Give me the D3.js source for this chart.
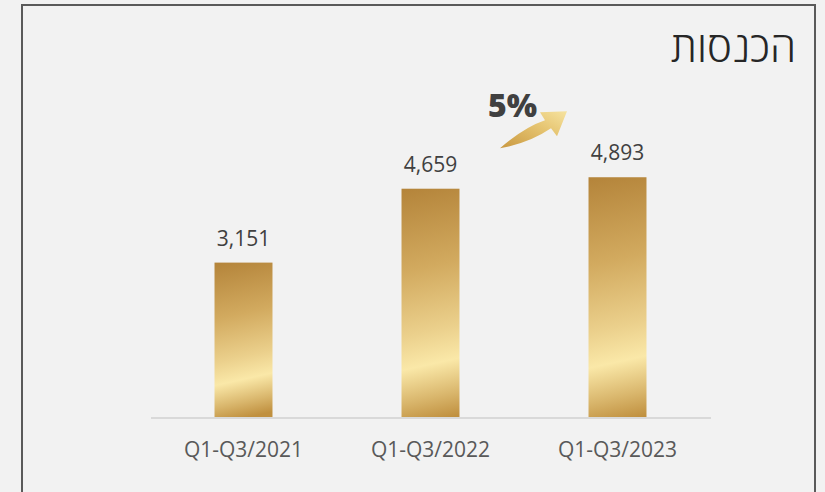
<!DOCTYPE html>
<html>
<head>
<meta charset="utf-8">
<script src="https://cdn.jsdelivr.net/npm/d3@7"></script>
<style>
  html, body { margin: 0; padding: 0; background: #f2f2f2; }
  svg { display: block; }
</style>
</head>
<body>
<script>
const periods = ["Q1-Q3/2021", "Q1-Q3/2022", "Q1-Q3/2023"];
const revenue = [3151, 4659, 4893];
const titleText = "הכנסות";

const W = 825, H = 492;

const svg = d3.select("body").append("svg")
  .attr("width", W)
  .attr("height", H);

svg.append("rect")
  .attr("width", W).attr("height", H)
  .attr("fill", "#f2f2f2");

// frame (bottom runs off the picture)
svg.append("rect")
  .attr("x", 22).attr("y", 5)
  .attr("width", 793).attr("height", 520)
  .attr("fill", "none")
  .attr("stroke", "#5a5a5a")
  .attr("stroke-width", 2);

const x = d3.scaleBand()
  .domain(periods)
  .range([150, 711])
  .paddingInner(0.69)
  .paddingOuter(0.345);

const y = d3.scaleLinear()
  .domain([0, 6000])
  .range([417, 123]);

const defs = svg.append("defs");

// per-bar gold gradient, light band near the bottom
periods.forEach(function (p, i) {
  const h = y(0) - y(revenue[i]);
  const g = defs.append("linearGradient")
    .attr("id", "gold" + i)
    .attr("gradientUnits", "userSpaceOnUse")
    .attr("x1", x(p)).attr("y1", y(revenue[i]))
    .attr("x2", x(p) + h * 0.22).attr("y2", y(0));
  [[0, "#b4843a"], [0.35, "#d2aa5f"], [0.62, "#ebd08c"], [0.76, "#fae8a8"], [0.9, "#d9b66c"], [1, "#c0903f"]]
    .forEach(function (s) {
      g.append("stop").attr("offset", s[0]).attr("stop-color", s[1]);
    });
});

const arrowGrad = defs.append("linearGradient")
  .attr("id", "arrowGold")
  .attr("x1", 0).attr("y1", 1).attr("x2", 1).attr("y2", 0);
arrowGrad.append("stop").attr("offset", 0).attr("stop-color", "#c99840");
arrowGrad.append("stop").attr("offset", 0.6).attr("stop-color", "#e6c572");
arrowGrad.append("stop").attr("offset", 1).attr("stop-color", "#f6e3a0");

// axis baseline
svg.append("line")
  .attr("x1", 151).attr("x2", 711)
  .attr("y1", y(0) + 1).attr("y2", y(0) + 1)
  .attr("stroke", "#d9d9d9")
  .attr("stroke-width", 2);

svg.selectAll(".bar")
  .data(revenue)
  .enter()
  .append("rect")
  .attr("class", "bar")
  .attr("x", function (d, i) { return x(periods[i]); })
  .attr("y", function (d) { return y(d); })
  .attr("width", x.bandwidth())
  .attr("height", function (d) { return y(0) - y(d); })
  .attr("fill", function (d, i) { return "url(#gold" + i + ")"; });

svg.selectAll(".val")
  .data(revenue)
  .enter()
  .append("text")
  .attr("class", "val")
  .attr("x", function (d, i) { return x(periods[i]) + x.bandwidth() / 2; })
  .attr("y", function (d) { return y(d) - 17; })
  .attr("text-anchor", "middle")
  .attr("font-family", "'Open Sans', sans-serif")
  .attr("font-size", 21)
  .attr("fill", "#404040")
  .text(d3.format(","));

svg.selectAll(".cat")
  .data(periods)
  .enter()
  .append("text")
  .attr("class", "cat")
  .attr("x", function (d) { return x(d) + x.bandwidth() / 2; })
  .attr("y", 457)
  .attr("text-anchor", "middle")
  .attr("font-family", "'Open Sans', sans-serif")
  .attr("font-size", 21)
  .attr("fill", "#595959")
  .text(function (d) { return d; });

// growth arrow between the last two bars
const growth = Math.round((revenue[2] / revenue[1] - 1) * 100);
const ax = (x(periods[1]) + x(periods[2]) + x.bandwidth()) / 2;
const ay = y(revenue[2]);

const ag = svg.append("g")
  .attr("transform", "translate(" + ax + "," + ay + ")");

ag.append("path")
  .attr("d", "M-24,-29 Q0,-50 21,-57 L16,-65 L43,-66 L33,-41 L27,-49 Q5,-34 -24,-29 Z")
  .attr("fill", "url(#arrowGold)");

ag.append("text")
  .attr("x", -11.5)
  .attr("y", -60)
  .attr("text-anchor", "middle")
  .attr("font-family", "'Open Sans', sans-serif")
  .attr("font-weight", 800)
  .attr("font-size", 32)
  .attr("fill", "#404040")
  .text(growth + "%");

svg.append("text")
  .attr("x", 796)
  .attr("y", 62)
  .attr("text-anchor", "end")
  .attr("font-family", "'Open Sans', 'DejaVu Sans', sans-serif")
  .attr("font-weight", 300)
  .attr("font-size", 42)
  .attr("fill", "#262626")
  .text(titleText);
</script>
</body>
</html>
